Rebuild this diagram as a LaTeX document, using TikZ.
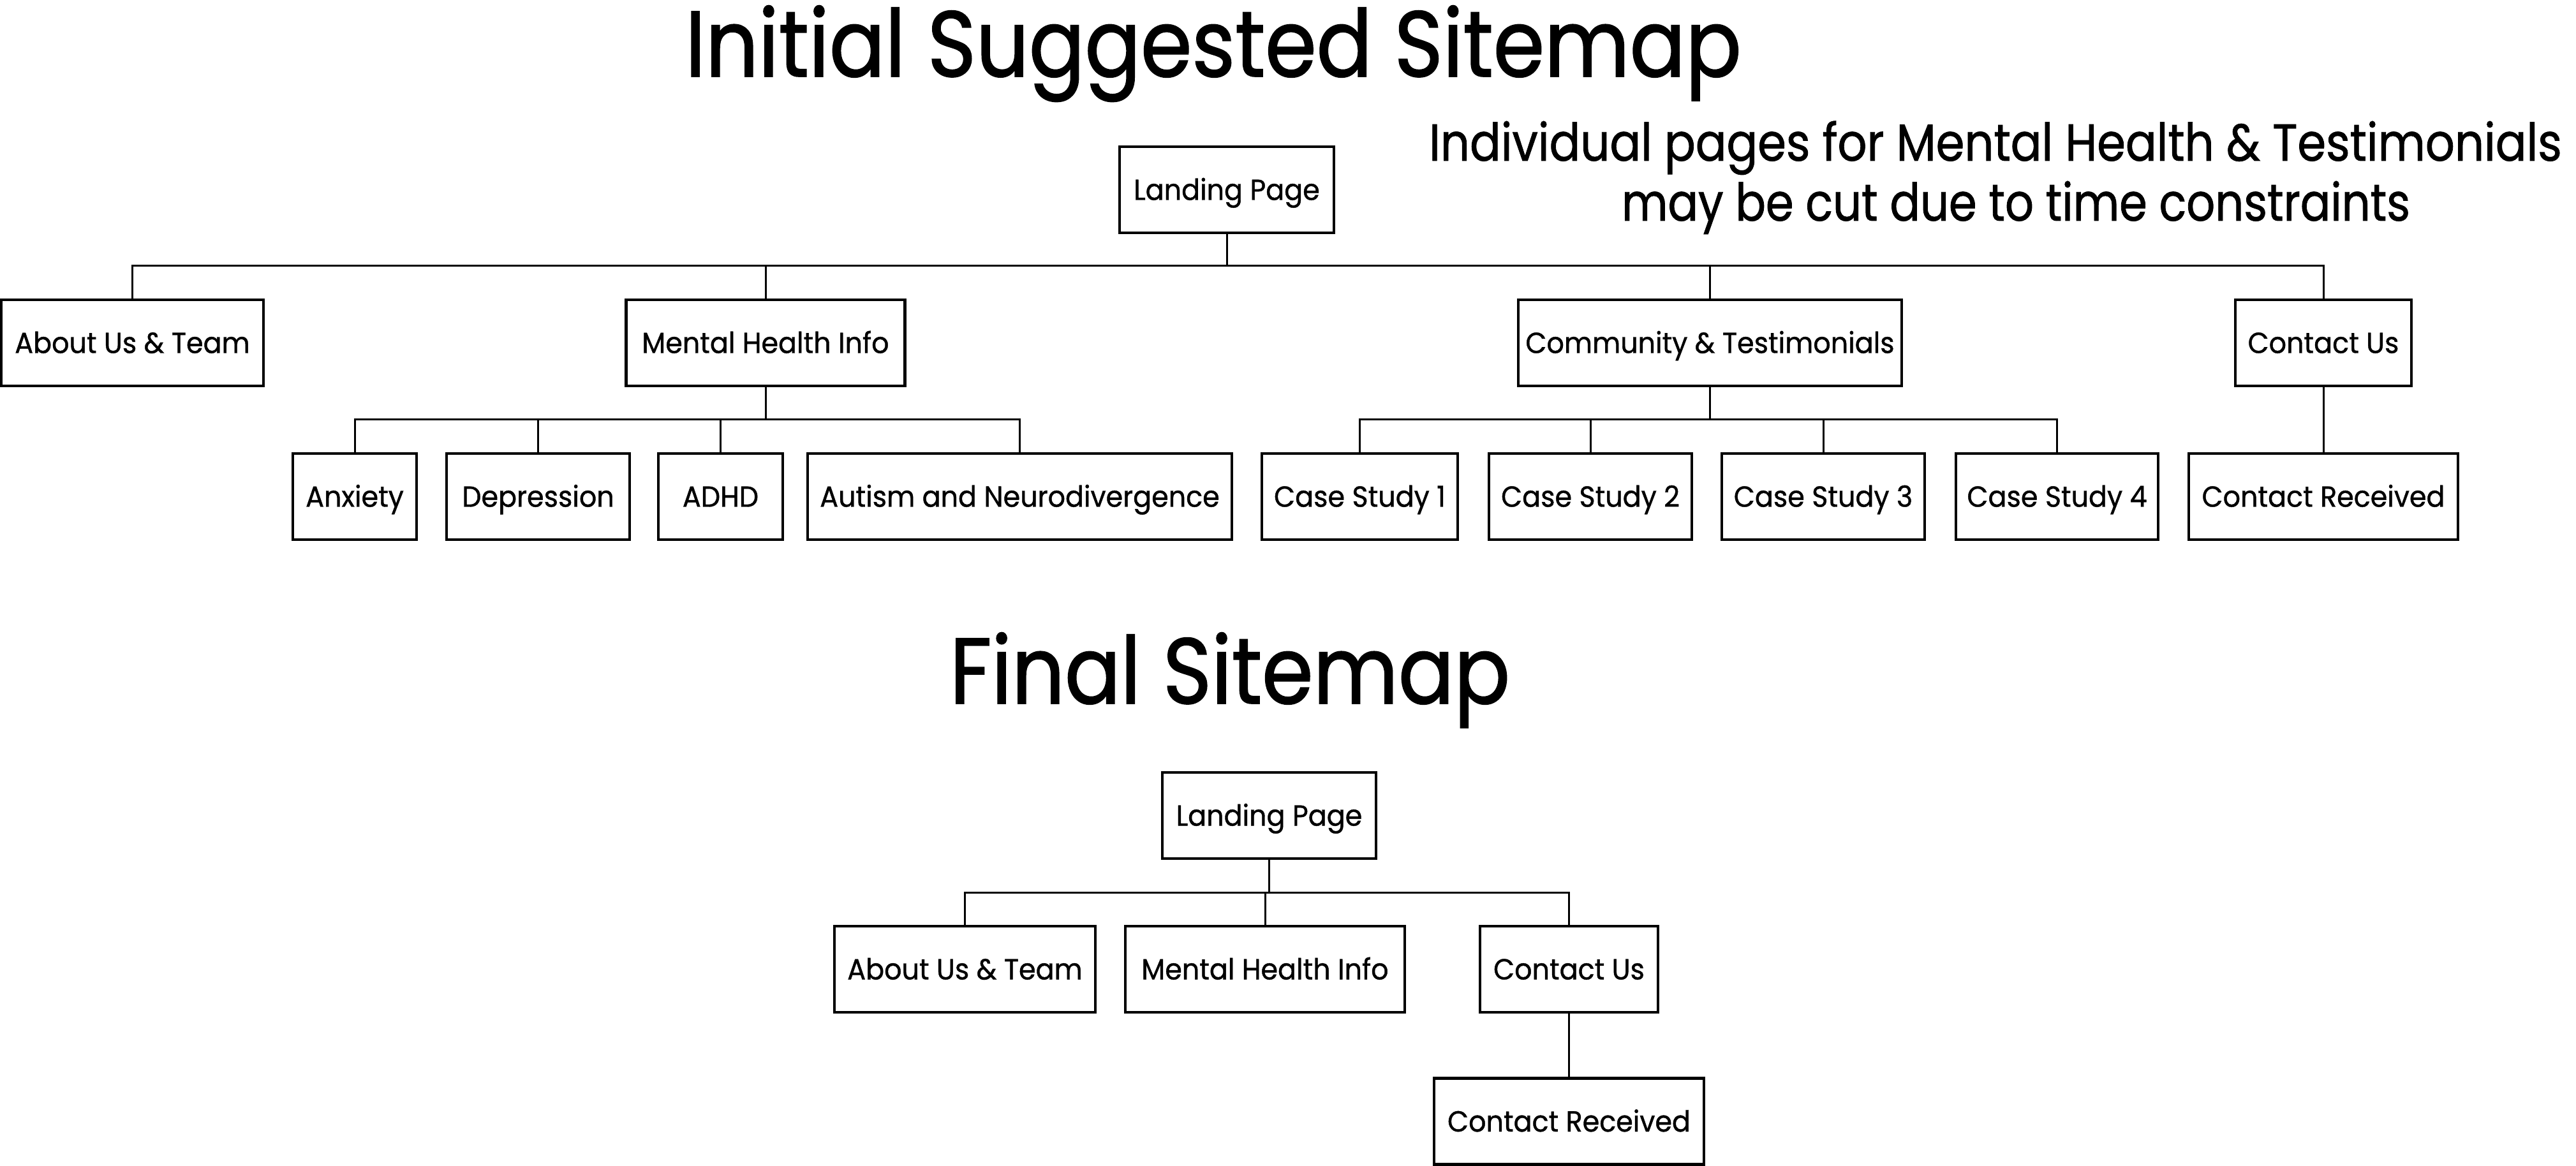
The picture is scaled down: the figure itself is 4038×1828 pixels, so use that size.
\documentclass[tikz,border=0pt]{standalone}
\usepackage{fontspec}
\setmainfont{Poppins}[FakeStretch=0.885, FakeBold=1.2]
\newfontfamily\notefam{Poppins}[FakeStretch=0.883, FakeBold=1.0]
\newfontfamily\notefamb{Poppins}[FakeStretch=0.862, FakeBold=1.0]
\newfontfamily\boxfam{Poppins}[FakeStretch=0.94, FakeBold=0.9]
\newcommand\boxfont{\boxfam\fontsize{11.4pt}{13pt}\selectfont}
\newcommand\titlefont{\fontsize{36.6pt}{40pt}\selectfont}
\newcommand\notefont{\notefam\fontsize{20.4pt}{24pt}\selectfont}
\newcommand\notefontb{\notefamb\fontsize{20.4pt}{24pt}\selectfont}
\begin{document}
\begin{tikzpicture}[x=0.25pt,y=-0.25pt,
  box/.style={draw, line width=1.1pt, inner sep=0pt, minimum height=33.75pt,
    text height=8pt, text depth=0pt, font=\boxfont},
  conn/.style={line width=0.75pt},
  label/.style={anchor=base, inner sep=0pt}]
\useasboundingbox (0,0) rectangle (4038,1828);
% titles and note
\node[label, font=\titlefont] (title1) at (1902,120) {Initial Suggested Sitemap};
\node[label, font=\notefont] (note1) at (3128,252) {Individual pages for Mental Health \& Testimonials};
\node[label, font=\notefontb] (note2) at (3160,346) {may be cut due to time constraints};
\node[label, font=\titlefont] (title2) at (1928,1103) {Final Sitemap};
% initial sitemap
\node[box, minimum width=84pt] (lp1) at (1923,297.5) {Landing Page};
\node[box, minimum width=102.75pt] (about1) at (207.5,537.5) {About Us \& Team};
\node[box, minimum width=109.25pt] (mhi1) at (1200,537.5) {Mental Health Info};
\node[box, minimum width=150.25pt] (comm1) at (2680.5,537.5) {Community \& Testimonials};
\node[box, minimum width=69pt] (cu1) at (3642,537.5) {Contact Us};
\node[box, minimum width=48.5pt] (anx) at (556,778.5) {Anxiety};
\node[box, minimum width=71.75pt] (dep) at (843.5,778.5) {Depression};
\node[box, minimum width=48.75pt] (adhd) at (1129.5,778.5) {ADHD};
\node[box, minimum width=166.25pt] (aut) at (1598.5,778.5) {Autism and Neurodivergence};
\node[box, minimum width=76.75pt] (cs1) at (2131.5,778.5) {Case Study 1};
\node[box, minimum width=79.5pt] (cs2) at (2493,778.5) {Case Study 2};
\node[box, minimum width=79.5pt] (cs3) at (2858,778.5) {Case Study 3};
\node[box, minimum width=79.25pt] (cs4) at (3224.5,778.5) {Case Study 4};
\node[box, minimum width=105.5pt] (cr1) at (3642,778.5) {Contact Received};
% final sitemap
\node[box, minimum width=83.75pt] (lp2) at (1989.5,1278.5) {Landing Page};
\node[box, minimum width=102.25pt] (about2) at (1512.5,1519.5) {About Us \& Team};
\node[box, minimum width=109.5pt] (mhi2) at (1983,1519.5) {Mental Health Info};
\node[box, minimum width=69.75pt] (cu2) at (2459.5,1519.5) {Contact Us};
\node[box, minimum width=105.75pt] (cr2) at (2459.5,1758) {Contact Received};
% bus levels
\coordinate (b1) at (0,417);
\coordinate (b2) at (0,658);
\coordinate (b3) at (0,1399);
% connectors
\foreach \c in {about1,mhi1,comm1,cu1}
  \draw[conn] (lp1.south) -- (lp1.south |- b1) -| (\c.north);
\foreach \c in {anx,dep,adhd,aut}
  \draw[conn] (mhi1.south) -- (mhi1.south |- b2) -| (\c.north);
\foreach \c in {cs1,cs2,cs3,cs4}
  \draw[conn] (comm1.south) -- (comm1.south |- b2) -| (\c.north);
\draw[conn] (cu1.south) -- (cr1.north);
\foreach \c in {about2,mhi2,cu2}
  \draw[conn] (lp2.south) -- (lp2.south |- b3) -| (\c.north);
\draw[conn] (cu2.south) -- (cr2.north);
\end{tikzpicture}
\end{document}
